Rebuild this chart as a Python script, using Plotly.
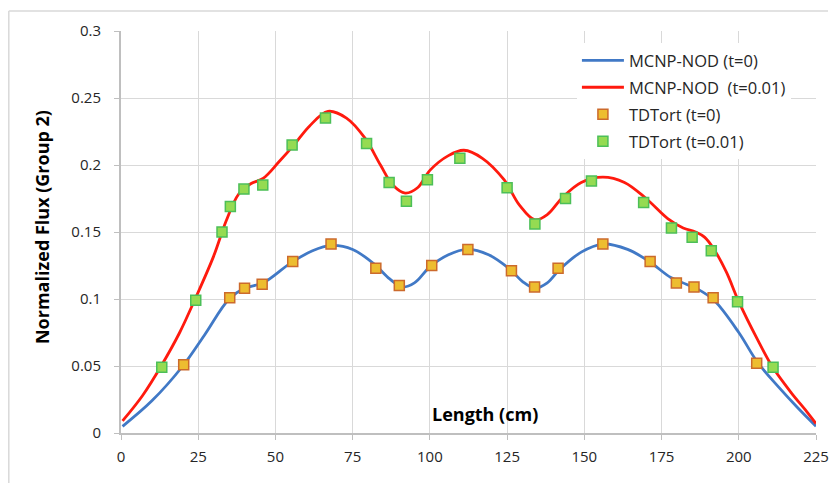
import plotly.graph_objects as go

# MCNP-NOD curves
mcnp0_x = [0.5, 10, 20, 27, 35, 40, 46, 55, 62, 68, 75, 82, 87, 91, 95, 100, 106, 112, 119, 126, 130, 134, 138, 142, 149, 156, 164, 171, 178, 183, 187, 192, 200, 206, 213, 219, 225]
mcnp0_y = [0.005, 0.024, 0.050, 0.073, 0.100, 0.108, 0.112, 0.127, 0.136, 0.140, 0.137, 0.126, 0.115, 0.109, 0.112, 0.124, 0.133, 0.137, 0.133, 0.122, 0.113, 0.108, 0.112, 0.122, 0.135, 0.141, 0.137, 0.128, 0.116, 0.111, 0.107, 0.099, 0.075, 0.053, 0.034, 0.019, 0.005]

mcnp1_x = [0.5, 7, 13, 19, 24, 30, 34, 38, 42, 46, 51, 56, 61, 67, 73, 79, 84, 88, 92, 96, 100, 106, 111, 117, 124, 129, 134, 138, 143, 149, 156, 163, 170, 177, 182, 186, 189, 192, 196, 200, 206, 211, 217, 222, 225]
mcnp1_y = [0.009, 0.028, 0.050, 0.075, 0.100, 0.132, 0.158, 0.178, 0.186, 0.190, 0.202, 0.215, 0.229, 0.240, 0.235, 0.220, 0.200, 0.185, 0.179, 0.183, 0.196, 0.207, 0.211, 0.205, 0.189, 0.170, 0.159, 0.163, 0.176, 0.187, 0.191, 0.187, 0.175, 0.160, 0.153, 0.150, 0.146, 0.137, 0.120, 0.098, 0.070, 0.049, 0.030, 0.016, 0.007]

# TDTort points
td0_x = [20.3, 35.2, 40.0, 45.7, 55.6, 68.0, 82.5, 90.1, 100.6, 112.3, 126.4, 133.9, 141.5, 156.0, 171.3, 179.8, 185.5, 191.7, 205.8]
td0_y = [0.051, 0.101, 0.108, 0.111, 0.128, 0.141, 0.123, 0.110, 0.125, 0.137, 0.121, 0.109, 0.123, 0.141, 0.128, 0.112, 0.109, 0.101, 0.052]

td1_x = [13.2, 24.2, 32.7, 35.4, 39.8, 45.9, 55.4, 66.2, 79.5, 86.8, 92.4, 99.2, 109.7, 125.0, 134.0, 143.9, 152.3, 169.2, 178.2, 184.9, 191.1, 199.6, 211.1]
td1_y = [0.049, 0.099, 0.150, 0.169, 0.182, 0.185, 0.215, 0.235, 0.216, 0.187, 0.173, 0.189, 0.205, 0.183, 0.156, 0.175, 0.188, 0.172, 0.153, 0.146, 0.136, 0.098, 0.049]

x_ticks = [0, 25, 50, 75, 100, 125, 150, 175, 200, 225]
y_ticks = [0, 0.05, 0.1, 0.15, 0.2, 0.25, 0.3]
y_tick_text = ["0", "0.05", "0.1", "0.15", "0.2", "0.25", "0.3"]

FONT = "Open Sans"
TXT = "#262626"

# page has an 8px body margin; plot area: page x 121..816, y 29..433
ML, MT = 113, 21
PW, PH = 695, 404

fig = go.Figure()
fig.add_trace(go.Scatter(x=mcnp0_x, y=mcnp0_y, mode="lines", name="MCNP-NOD (t=0)",
                         line=dict(color="#4179C6", width=2.8, shape="spline", smoothing=1.0),
                         legendgroup="a"))
fig.add_trace(go.Scatter(x=mcnp1_x, y=mcnp1_y, mode="lines", name="MCNP-NOD\u00a0 (t=0.01)",
                         line=dict(color="#FF1A0E", width=2.8, shape="spline", smoothing=1.0),
                         legendgroup="b"))
fig.add_trace(go.Scatter(x=td0_x, y=td0_y, mode="markers", name="TDTort (t=0)",
                         marker=dict(symbol="square", size=10, color="#EDBD30",
                                     line=dict(color="#CC6A2C", width=1.5)),
                         legendgroup="c"))
fig.add_trace(go.Scatter(x=td1_x, y=td1_y, mode="markers", name="TDTort (t=0.01)",
                         marker=dict(symbol="square", size=10, color="#95DB52",
                                     line=dict(color="#4CBF58", width=1.5)),
                         legendgroup="d"))

fig.update_layout(
    width=837, height=483,
    margin=dict(l=ML, r=837 - ML - PW, t=MT, b=483 - MT - PH),
    paper_bgcolor="white", plot_bgcolor="white",
    font=dict(family=FONT, color=TXT, size=15),
    showlegend=True,
    legend=dict(x=0.656, y=0.97, xanchor="left", yanchor="top",
                bgcolor="white", borderwidth=0, itemwidth=42,
                font=dict(family=FONT, size=16.5, color=TXT),
                tracegroupgap=2.5, traceorder="grouped"),
    xaxis=dict(range=[0, 225], tickvals=x_ticks, ticktext=[str(v) for v in x_ticks],
               showgrid=True, gridcolor="#D9D9D9", gridwidth=1,
               showline=True, linecolor="#BFBFBF", linewidth=2,
               ticks="outside", ticklen=5, tickcolor="#BFBFBF", tickwidth=1,
               zeroline=False, tickfont=dict(size=15, family=FONT, color=TXT),
               ticklabelstandoff=4),
    yaxis=dict(range=[0, 0.3], tickvals=y_ticks, ticktext=y_tick_text,
               showgrid=True, gridcolor="#D9D9D9", gridwidth=1,
               showline=True, linecolor="#BFBFBF", linewidth=2,
               ticks="outside", ticklen=5, tickcolor="#BFBFBF", tickwidth=1,
               zeroline=False, tickfont=dict(size=15, family=FONT, color=TXT),
               ticklabelstandoff=10),
)

def px_x(page_x):
    return (page_x - 8 - ML) / PW

def px_y(page_y):
    return (MT + PH - (page_y - 8)) / PH

fig.add_annotation(text="<b>Length (cm)</b>", x=px_x(485), y=px_y(414),
                   xref="paper", yref="paper", showarrow=False, xanchor="center", yanchor="middle",
                   font=dict(family=FONT, size=18, color="#000000"))
fig.add_annotation(text="<b>Normalized Flux (Group 2)</b>", textangle=-90,
                   x=px_x(42), y=px_y(226), xanchor="center", yanchor="middle",
                   xref="paper", yref="paper", showarrow=False,
                   font=dict(family=FONT, size=18, color="#000000"))

# chart-area border (top and left edges visible)
fig.add_shape(type="line", xref="paper", yref="paper",
              x0=px_x(8.8), x1=px_x(828), y0=px_y(8.8), y1=px_y(8.8),
              line=dict(color="#D9D9D9", width=1.5))
fig.add_shape(type="line", xref="paper", yref="paper",
              x0=px_x(8.8), x1=px_x(8.8), y0=px_y(8.8), y1=px_y(495),
              line=dict(color="#D9D9D9", width=1.5))

fig.write_html("out.html")
